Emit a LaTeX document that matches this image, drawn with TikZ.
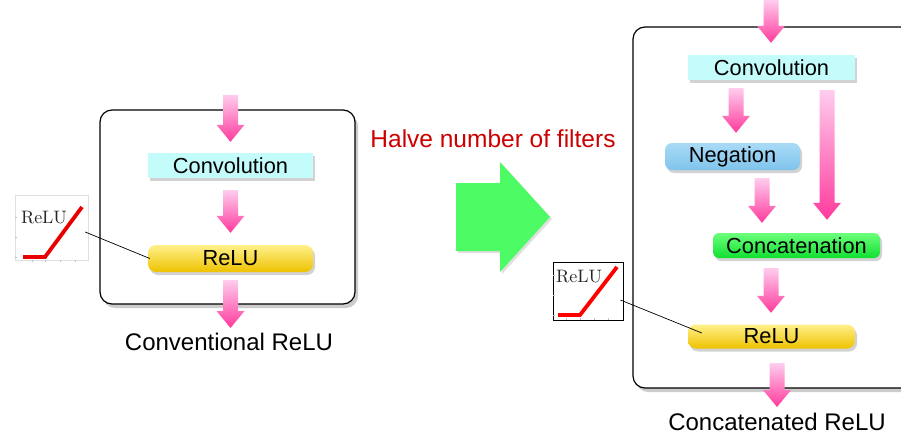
\documentclass[tikz,border=0pt]{standalone}
\usepackage{fontspec}
\newfontfamily\arialf{Liberation Sans}
\newfontfamily\lmten{lmroman10-regular.otf}
\usetikzlibrary{shadows,calc}
\definecolor{convc}{HTML}{C4FCFC}
\definecolor{negtop}{HTML}{A8DAF6}
\definecolor{negbot}{HTML}{80C4EC}
\definecolor{cattop}{HTML}{6CFF7C}
\definecolor{catbot}{HTML}{10E030}
\definecolor{relutop}{HTML}{FFF08A}
\definecolor{relubot}{HTML}{EEC200}
\definecolor{pinktop}{HTML}{FFCCEE}
\definecolor{pinkbot}{HTML}{FF3A9C}
\definecolor{halvered}{HTML}{CC0000}
\definecolor{bigarrow}{HTML}{4DFC64}
\definecolor{plotred}{HTML}{E80000}
\tikzset{
  arrowshade/.style={top color=pinktop, bottom color=pinkbot, draw=none},
  boxshadow/.style={drop shadow={shadow xshift=2pt, shadow yshift=-3pt, opacity=0.35, fill=gray}},
  layerbox/.style={inner sep=0pt, font=\arialf\fontsize{21.8}{24}\selectfont, text=black, boxshadow},
  convbox/.style={layerbox, rectangle, fill=convc},
  relubox/.style={layerbox, rounded corners=8pt, top color=relutop, bottom color=relubot},
  negbox/.style={layerbox, rounded corners=7pt, top color=negtop, bottom color=negbot},
  catbox/.style={layerbox, rounded corners=6pt, top color=cattop, bottom color=catbot},
  outerbox/.style={draw=black, line width=1.2pt, rounded corners=12pt, fill=white,
    drop shadow={shadow xshift=3pt, shadow yshift=-4pt, opacity=0.4, fill=gray}},
  captext/.style={font=\arialf\fontsize{24}{28}\selectfont, anchor=base, inner sep=0pt},
  plotframe/.style={inner sep=0pt, fill=white},
  plottext/.style={font=\lmten\fontsize{18}{20}\selectfont, text=black!85, inner sep=0pt},
  reluline/.style={line width=3.8pt, plotred, line cap=butt},
  tickline/.style={gray!50, line width=0.4pt},
  pointer/.style={black, line width=0.7pt}
}
\newcommand\fatarrow[2]{%
  \path[arrowshade] ([xshift=-7.5pt]#1) -- ([xshift=7.5pt]#1)
    -- ([xshift=7.5pt,yshift=17pt]#2) -- ([xshift=14pt,yshift=17pt]#2)
    -- (#2) -- ([xshift=-14pt,yshift=17pt]#2)
    -- ([xshift=-7.5pt,yshift=17pt]#2) -- cycle;}
\begin{document}
\begin{tikzpicture}[x=1pt,y=-1pt]
\fill[white] (0,0) rectangle (901,441);
\useasboundingbox (0,0) rectangle (901,441);
\clip (0,0) rectangle (901,441);

% ---------- left: conventional ReLU ----------
\node[outerbox, minimum width=255pt, minimum height=194pt] (box1) at (227.5,207) {};
\node[convbox, minimum width=165pt, minimum height=25pt] (conv1) at (230.5,165.5) {Convolution};
\node[relubox, minimum width=165pt, minimum height=27pt] (relu1) at (230.5,258.5) {ReLU};
\coordinate (in1) at (230.5,95);
\coordinate (out1) at (230.5,328);
\coordinate (a1e) at ([yshift=11pt]conv1.north);
\coordinate (a2s) at ([yshift=-12pt]conv1.south);
\coordinate (a2e) at ([yshift=12pt]relu1.north);
\coordinate (a3s) at ([yshift=-8pt]relu1.south);
\fatarrow{in1}{a1e}
\fatarrow{a2s}{a2e}
\fatarrow{a3s}{out1}
\node[captext] (cap1) at (229,350) {Conventional ReLU};

% left plot
\node[plotframe, minimum width=73pt, minimum height=65pt] (plot1) at (51.5,227.5) {};
\draw[gray!25, line width=0.5pt] (plot1.south west) rectangle (plot1.north east);
\foreach \tx in {32,45,60,75} \draw[tickline] (\tx,260) -- (\tx,262);
\foreach \ty in {217,237,257} \draw[tickline] (15,\ty) -- (17,\ty);
\node[plottext] (plt1) at (44,218) {ReLU};
\draw[reluline] (23,257) -- (45,257) -- (82,207);
\coordinate (p1) at ([xshift=-3pt,yshift=-4.5pt]plot1.east);
\coordinate (q1) at ([xshift=2pt]relu1.west);
\draw[pointer] (p1) -- (q1);

% ---------- middle ----------
\node[font=\arialf\fontsize{24.5}{28}\selectfont, text=halvered, anchor=base, inner sep=0pt] (halve) at (493,147) {Halve number of filters};
\path[fill=bigarrow, drop shadow={shadow xshift=2pt, shadow yshift=-2pt, opacity=0.25, fill=gray}]
  (456,183) -- (500,183) -- (500,162) -- (550,217) -- (500,272) -- (500,251) -- (456,251) -- cycle;

% ---------- right: concatenated ReLU ----------
\node[outerbox, minimum width=290pt, minimum height=361pt] (box2) at (778,207.5) {};
\node[convbox, minimum width=167pt, minimum height=25pt] (conv2) at (771.5,67.5) {Convolution};
\node[negbox, minimum width=135pt, minimum height=27pt] (neg) at (732.5,156.5) {Negation};
\node[catbox, minimum width=167pt, minimum height=25pt] (cat) at (796.5,245.5) {Concatenation};
\node[relubox, minimum width=167pt, minimum height=24pt] (relu2) at (771.5,336.5) {ReLU};
\coordinate (in2) at (771,0);
\coordinate (out2) at (777,407);
\coordinate (b1e) at ([xshift=-0.5pt,yshift=12pt]conv2.north);
\coordinate (b2s) at ([xshift=-35.5pt,yshift=-8pt]conv2.south);
\coordinate (b2e) at ([xshift=3.5pt,yshift=10pt]neg.north);
\coordinate (b3s) at ([xshift=55.5pt,yshift=-10pt]conv2.south);
\coordinate (b3e) at ([xshift=30.5pt,yshift=13pt]cat.north);
\coordinate (b4s) at ([xshift=29.5pt,yshift=-8pt]neg.south);
\coordinate (b4e) at ([xshift=-34.5pt,yshift=10pt]cat.north);
\coordinate (b5s) at ([xshift=-25.5pt,yshift=-10pt]cat.south);
\coordinate (b5e) at ([xshift=-0.5pt,yshift=11.5pt]relu2.north);
\coordinate (b6s) at ([xshift=5.5pt,yshift=-14.5pt]relu2.south);
\fatarrow{in2}{b1e}
\fatarrow{b2s}{b2e}
\fatarrow{b3s}{b3e}
\fatarrow{b4s}{b4e}
\fatarrow{b5s}{b5e}
\fatarrow{b6s}{out2}
\node[captext] (cap2) at (777,430) {Concatenated ReLU};

% right plot
\node[plotframe, draw=black, line width=0.8pt, minimum width=70pt, minimum height=58pt] (plot2) at (588,291) {};
\foreach \tx in {566,580,594,608} \draw[tickline] (\tx,318) -- (\tx,320);
\foreach \ty in {275,295,315} \draw[tickline] (553,\ty) -- (555,\ty);
\node[plottext] (plt2) at (579,277) {ReLU};
\draw[reluline, red] (558,315) -- (580,315) -- (617,267);
\coordinate (p2) at ([xshift=-3pt,yshift=-9pt]plot2.east);
\coordinate (q2) at ([xshift=14pt,yshift=3.5pt]relu2.west);
\draw[pointer] (p2) -- (q2);
\end{tikzpicture}
\end{document}
